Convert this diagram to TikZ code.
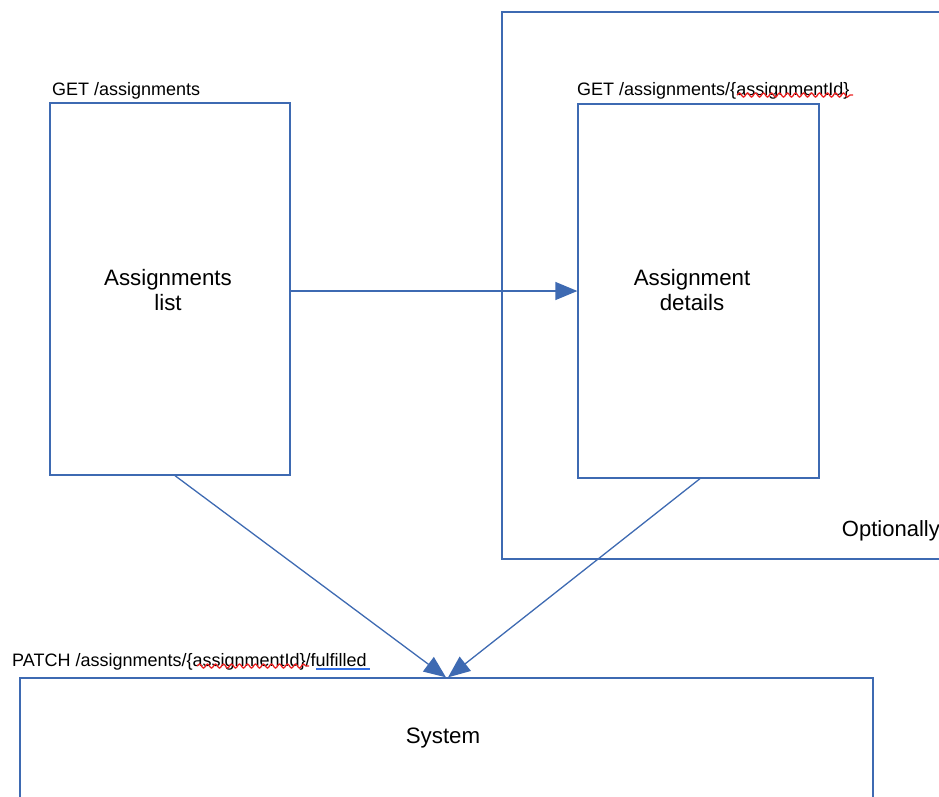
\documentclass[tikz,border=0pt]{standalone}
\usepackage{fontspec}
\setmainfont{Liberation Sans}
\usetikzlibrary{arrows.meta,decorations.pathmorphing}
\definecolor{edgeblue}{RGB}{62,106,178}
\definecolor{spellred}{RGB}{235,35,35}
\definecolor{spellblue}{RGB}{50,110,230}
\begin{document}
\begin{tikzpicture}[x=1pt,y=-1pt,
  box/.style={draw=edgeblue, line width=1.3pt, inner sep=0pt, rectangle},
  lab/.style={anchor=base west, inner sep=0pt, font=\fontsize{18}{20}\selectfont},
  main/.style={align=center, inner sep=0pt, font=\fontsize{22.3}{25}\selectfont},
  conn/.style={draw=edgeblue, line width=1.3pt, -{Triangle[length=22pt,width=18pt]}},
  wavy/.style={spellred, line width=1.3pt, decorate, decoration={snake, amplitude=2pt, segment length=8pt}}]
\useasboundingbox (0,0) rectangle (939,796);
\clip (0,0) rectangle (939,796);

% optional region around the details screen
\node[box, minimum width=458pt, minimum height=547pt] (opt) at (731,285.5) {};
\node[anchor=base east, inner sep=0pt, font=\fontsize{22}{25}\selectfont] (optlab) at (940,536) {Optionally};

% screens
\node[box, minimum width=240pt, minimum height=372pt] (list) at (170,289) {};
\node[box, minimum width=241pt, minimum height=374pt] (details) at (698.5,291) {};
\node[box, minimum width=853pt, minimum height=142pt] (sys) at (446.5,749) {};

\node[main] (listtxt) at (168,290) {Assignments\\list};
\node[main] (dettxt) at (692,290) {Assignment\\details};
\node[main] (systxt) at (443,738) {System};

% endpoint labels
\node[lab] (getall) at (52,95) {GET /assignments};
\node[lab] (getone) at (577,95) {GET /assignments/\{assignmentId\}};
\node[lab] (patch) at (12,666) {PATCH /assignments/\{assignmentId\}/fulfilled};

% spell-check marks
\draw[wavy] (737,95) -- (853,95);
\draw[wavy] (197,666) -- (309,666);
\draw[spellblue, line width=1.4pt] (316,669) -- (370,669);

% flows
\draw[conn] (list.east |- details.west) -- (details.west);
\draw[conn] ([xshift=5pt]list.south) -- ([xshift=-0.5pt]sys.north);
\draw[conn] ([xshift=1.5pt]details.south) -- ([xshift=1.5pt]sys.north);
\end{tikzpicture}
\end{document}
